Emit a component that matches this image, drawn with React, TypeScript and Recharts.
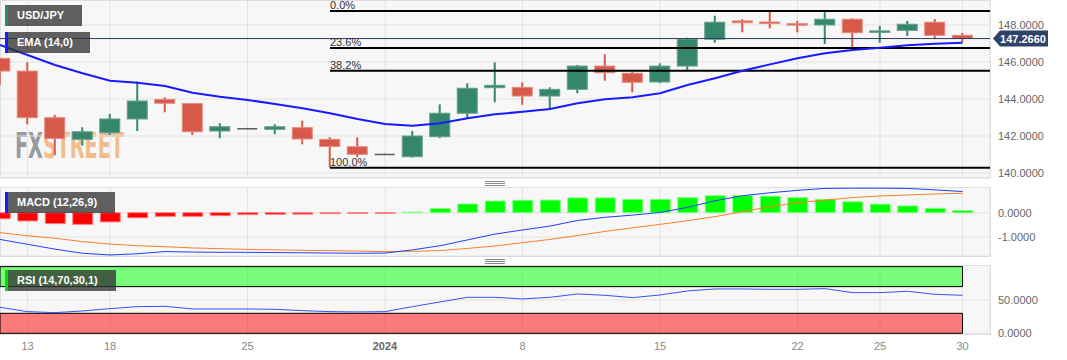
import React from 'react';
import {
  ComposedChart, Bar, Line, XAxis, YAxis, CartesianGrid, ReferenceLine, ReferenceArea, Cell,
} from 'recharts';

// trading days, Dec 12 2023 .. Jan 30 2024 (Jan 1 shown as the year)
const dates = ['12', '13', '14', '15', '18', '19', '20', '21', '22', '25', '26', '27', '28', '29',
  '2024', '2', '3', '4', '5', '8', '9', '10', '11', '12', '15', '16', '17', '18', '19',
  '22', '23', '24', '25', '26', '29', '30'];
const tickIdx = [1, 4, 9, 14, 19, 24, 29, 32, 35];

const open = [146.20, 145.51, 142.99, 141.82, 142.18, 142.92, 143.98, 143.75, 142.27, 142.43, 142.36, 142.45,
  141.82, 141.42, 141.04, 140.88, 141.96, 143.23, 144.61, 144.63, 144.16, 144.52, 145.78, 145.39,
  144.92, 145.78, 147.23, 148.22, 148.16, 148.07, 148.00, 148.31, 147.60, 147.71, 148.15, 147.44];
const high = [146.22, 145.98, 143.14, 142.47, 143.19, 144.94, 144.09, 143.78, 142.69, 142.44, 142.63, 142.83,
  141.93, 141.93, 141.05, 142.27, 143.71, 144.85, 145.98, 144.90, 144.63, 145.84, 146.42, 145.48,
  145.93, 147.31, 148.50, 148.32, 148.76, 148.23, 148.69, 148.36, 147.95, 148.22, 148.32, 147.57];
const low = [144.76, 142.63, 140.97, 141.48, 142.05, 142.27, 143.28, 142.05, 141.88, 142.42, 142.09, 141.55,
  140.29, 140.85, 141.03, 140.83, 141.88, 142.92, 143.82, 143.68, 143.46, 144.31, 144.99, 144.36,
  144.85, 145.57, 147.04, 147.60, 147.82, 147.60, 146.97, 146.69, 147.04, 147.41, 147.23, 147.08];
const close = [145.51, 142.99, 141.87, 142.23, 142.92, 143.89, 143.77, 142.23, 142.50, 142.43, 142.50, 141.84,
  141.43, 141.01, 141.04, 142.00, 143.23, 144.58, 144.74, 144.16, 144.52, 145.78, 145.42, 144.90,
  145.78, 147.23, 148.15, 148.12, 148.09, 148.00, 148.31, 147.58, 147.68, 148.04, 147.44, 147.266];
const ema = [146.92, 146.38, 145.84, 145.39, 144.99, 144.88, 144.70, 144.34, 144.12, 143.95, 143.73, 143.50,
  143.23, 142.92, 142.65, 142.56, 142.69, 142.96, 143.17, 143.31, 143.46, 143.77, 143.98, 144.09,
  144.31, 144.76, 145.12, 145.53, 145.87, 146.20, 146.47, 146.65, 146.77, 146.90, 146.99, 147.04];

const macdLine = [-1.10, -1.30, -1.50, -1.67, -1.74, -1.69, -1.60, -1.62, -1.63, -1.63, -1.64, -1.65,
  -1.66, -1.67, -1.66, -1.53, -1.36, -1.12, -0.88, -0.71, -0.55, -0.32, -0.19, -0.10,
  0.01, 0.22, 0.49, 0.70, 0.82, 0.92, 1.00, 1.01, 1.01, 1.00, 0.94, 0.87];
const signalLine = [-0.82, -0.95, -1.05, -1.19, -1.29, -1.36, -1.40, -1.45, -1.48, -1.51, -1.53, -1.55,
  -1.56, -1.58, -1.60, -1.59, -1.56, -1.47, -1.37, -1.23, -1.10, -0.94, -0.77, -0.62,
  -0.48, -0.33, -0.16, 0.04, 0.25, 0.41, 0.52, 0.62, 0.69, 0.73, 0.77, 0.80];
const histogram = [-0.25, -0.34, -0.45, -0.48, -0.38, -0.21, -0.15, -0.15, -0.12, -0.08, -0.07, -0.06,
  -0.04, -0.03, -0.03, 0.02, 0.17, 0.36, 0.48, 0.51, 0.52, 0.61, 0.61, 0.55,
  0.55, 0.62, 0.70, 0.70, 0.68, 0.62, 0.55, 0.45, 0.35, 0.28, 0.18, 0.09];
const rsi = [39, 32.5, 31, 33.5, 37, 40, 40.5, 36.5, 36.5, 36.5, 36, 34,
  32.5, 32, 32.5, 40, 47, 54, 54, 51.5, 54, 59, 57, 53.5,
  57.5, 63.5, 66.5, 66.5, 66, 66, 67, 61, 61, 63, 58.5, 57];

const fibLevels = [
  { label: '0.0%', value: 148.76 },
  { label: '23.6%', value: 146.76 },
  { label: '38.2%', value: 145.52 },
  { label: '100.0%', value: 140.29 },
];
const lastPrice = 147.266;

const rows = dates.map((d, i) => ({
  i, d, o: open[i], h: high[i], l: low[i], c: close[i], ema: ema[i],
  macd: macdLine[i], signal: signalLine[i], hist: histogram[i], rsi: rsi[i],
}));

const GREEN = '#36866e';
const RED = '#d6594a';
const FONT = '"Liberation Sans", Arial, sans-serif';
const axisTick = { fill: '#666', fontSize: 11, fontFamily: FONT };
const fmt4 = (v: number) => v.toFixed(4);

function Candle(props: any) {
  const { x, y, width, height, payload } = props;
  const { o, c, h, l } = payload;
  const span = h - l || 1;
  const px = (v: number) => y + ((h - v) / span) * height;
  const color = c === o ? '#5c5c5c' : c > o ? GREEN : RED;
  const edge = c === o ? '#5c5c5c' : c > o ? '#63a08d' : '#e58a7e';
  const cx = x + width / 2;
  const top = px(Math.max(o, c));
  const bh = Math.max(px(Math.min(o, c)) - top, 1.5);
  return (
    <g>
      <line x1={cx} x2={cx} y1={y} y2={y + height} stroke={color} strokeWidth={2} />
      <rect x={x + 0.5} y={top} width={width - 1} height={bh} fill={color} stroke={edge} strokeWidth={c === o ? 0 : 1} />
    </g>
  );
}

function FibLabel(props: any) {
  const { viewBox, text } = props;
  return (
    <text x={viewBox.x} y={viewBox.y - 2} fontSize={11} fill="#333" fontFamily={FONT}>{text}</text>
  );
}

function PriceTag(props: any) {
  const { viewBox } = props;
  const x0 = viewBox.x + viewBox.width + 3;
  const yc = viewBox.y;
  return (
    <g>
      <polygon
        points={`${x0},${yc} ${x0 + 7},${yc - 8} ${x0 + 55},${yc - 8} ${x0 + 55},${yc + 8} ${x0 + 7},${yc + 8}`}
        fill="#2f4268"
      />
      <text x={x0 + 30} y={yc + 4} textAnchor="middle" fontSize={11} fontWeight="bold" fill="#fff" fontFamily={FONT}>
        {lastPrice.toFixed(4)}
      </text>
    </g>
  );
}

function DateTick(props: any) {
  const { x, y, payload } = props;
  const label = dates[payload.value];
  const year = label === '2024';
  return (
    <text x={x} y={y} dy="0.71em" textAnchor="middle" fontSize={11} fontFamily={FONT}
      fontWeight={year ? 'bold' : 'normal'} fill={year ? '#666' : '#888'}>
      {label}
    </text>
  );
}

function Legend({ top, width, stripe, text }: { top: number; width: number; stripe: string; text: string }) {
  return (
    <div style={{
      position: 'absolute', left: 5, top, width, height: 21, boxSizing: 'border-box',
      background: 'rgba(50,50,50,0.77)', borderLeft: `3px solid ${stripe}`, color: '#fff',
      font: `bold 11px ${FONT}`, lineHeight: '21px', paddingLeft: 9,
    }}>{text}</div>
  );
}

function Pane({ top, height }: { top: number; height: number }) {
  return (
    <div style={{
      position: 'absolute', left: 0, top, width: 991, height, boxSizing: 'border-box',
      background: '#f7f7f7', border: '1px solid #d6d9e8',
    }} />
  );
}

function Grip({ top }: { top: number }) {
  return (
    <div style={{ position: 'absolute', left: 485, top, width: 20, height: 5, borderTop: '1px solid #888', borderBottom: '1px solid #888', boxSizing: 'border-box' }}>
      <div style={{ marginTop: 1, height: 1, background: '#888' }} />
    </div>
  );
}

const xProps = {
  dataKey: 'i', type: 'number' as const, domain: [0, 36], ticks: tickIdx, allowDataOverflow: true,
};

export default function App() {
  return (
    <div style={{ position: 'absolute', left: 0, top: 0, width: 1067, height: 360, background: '#fff', overflow: 'hidden' }}>
      <Pane top={0} height={178} />
      <Pane top={187} height={70} />
      <Pane top={265} height={70} />

      <div style={{
        position: 'absolute', left: 15, top: 128, whiteSpace: 'nowrap', opacity: 0.85,
        font: 'bold 26px "Liberation Sans Narrow", "DejaVu Sans Condensed", sans-serif', lineHeight: '26px',
        transform: 'scale(0.82, 1.38)', transformOrigin: '0 0',
      }}>
        <span style={{ color: '#868a94' }}>FX</span><span style={{ color: '#f2b47a' }}>STREET</span>
      </div>

      <div style={{ position: 'absolute', left: 0, top: 0 }}>
        <ComposedChart width={1067} height={186} data={rows} margin={{ top: 0, right: 0, bottom: 8, left: 0 }}>
          <CartesianGrid stroke="#e3e3e3" />
          <XAxis {...xProps} hide />
          <YAxis orientation="right" width={77} domain={[139.73, 149.35]} ticks={[140, 142, 144, 146, 148]} interval={0}
            tickFormatter={fmt4} tick={axisTick} tickLine={false} axisLine={false} allowDataOverflow />
          <ReferenceLine y={lastPrice} stroke="#2c3b66" strokeWidth={1} label={<PriceTag />} />
          {fibLevels.map((f) => (
            <ReferenceLine key={f.label} segment={[{ x: 12, y: f.value }, { x: 36, y: f.value }]}
              stroke="#000" strokeWidth={2} label={<FibLabel text={f.label} />} />
          ))}
          <Bar dataKey={(r: any) => [r.l, r.h]} barSize={21} shape={<Candle />} isAnimationActive={false} />
          <Line dataKey="ema" stroke="#1a1aff" strokeWidth={2} dot={false} activeDot={false} type="linear" isAnimationActive={false} />
        </ComposedChart>
      </div>

      <div style={{ position: 'absolute', left: 0, top: 187 }}>
        <ComposedChart width={1067} height={69} data={rows} margin={{ top: 0, right: 0, bottom: 0, left: 0 }}>
          <CartesianGrid stroke="#e3e3e3" />
          <XAxis {...xProps} hide />
          <YAxis orientation="right" width={77} domain={[-1.782, 1.058]} ticks={[-1, 0]} interval={0}
            tickFormatter={fmt4} tick={axisTick} tickLine={false} axisLine={false} allowDataOverflow />
          <Bar dataKey="hist" barSize={20} isAnimationActive={false}>
            {rows.map((r) => (
              <Cell key={r.i} fill={r.hist < 0 ? '#ff0000' : '#00ff00'} stroke={r.hist < 0 ? '#ff8080' : '#80ff80'} strokeWidth={1} />
            ))}
          </Bar>
          <Line dataKey="signal" stroke="#ff7f27" strokeWidth={1} dot={false} isAnimationActive={false} />
          <Line dataKey="macd" stroke="#2040ff" strokeWidth={1} dot={false} isAnimationActive={false} />
        </ComposedChart>
      </div>

      <div style={{ position: 'absolute', left: 0, top: 265 }}>
        <ComposedChart width={1067} height={95} data={rows} margin={{ top: 0, right: 0, bottom: 0, left: 0 }}>
          <CartesianGrid stroke="#e3e3e3" />
          <XAxis {...xProps} height={26} tick={<DateTick />} tickLine={false} axisLine={false} interval={0} />
          <YAxis orientation="right" width={77} domain={[-1.05, 102.45]} ticks={[0, 50]} interval={0}
            tickFormatter={fmt4} tick={axisTick} tickLine={false} axisLine={false} allowDataOverflow />
          <ReferenceArea x1={0} x2={35} y1={70} y2={100} fill="#00ff00" fillOpacity={0.5} stroke="#000" strokeWidth={1} />
          <ReferenceArea x1={0} x2={35} y1={0} y2={30} fill="#ff0000" fillOpacity={0.5} stroke="#000" strokeWidth={1} />
          <Line dataKey="rsi" stroke="#3355ff" strokeWidth={1} dot={false} isAnimationActive={false} />
        </ComposedChart>
      </div>

      <Legend top={5} width={77} stripe="#2b8a6b" text="USD/JPY" />
      <Legend top={32} width={85} stripe="#1a1aff" text="EMA (14,0)" />
      <Legend top={192} width={110} stripe="#1a1aff" text="MACD (12,26,9)" />
      <Legend top={270} width={111} stripe="#00e000" text="RSI (14,70,30,1)" />
      <Grip top={181} />
      <Grip top={259} />
    </div>
  );
}
